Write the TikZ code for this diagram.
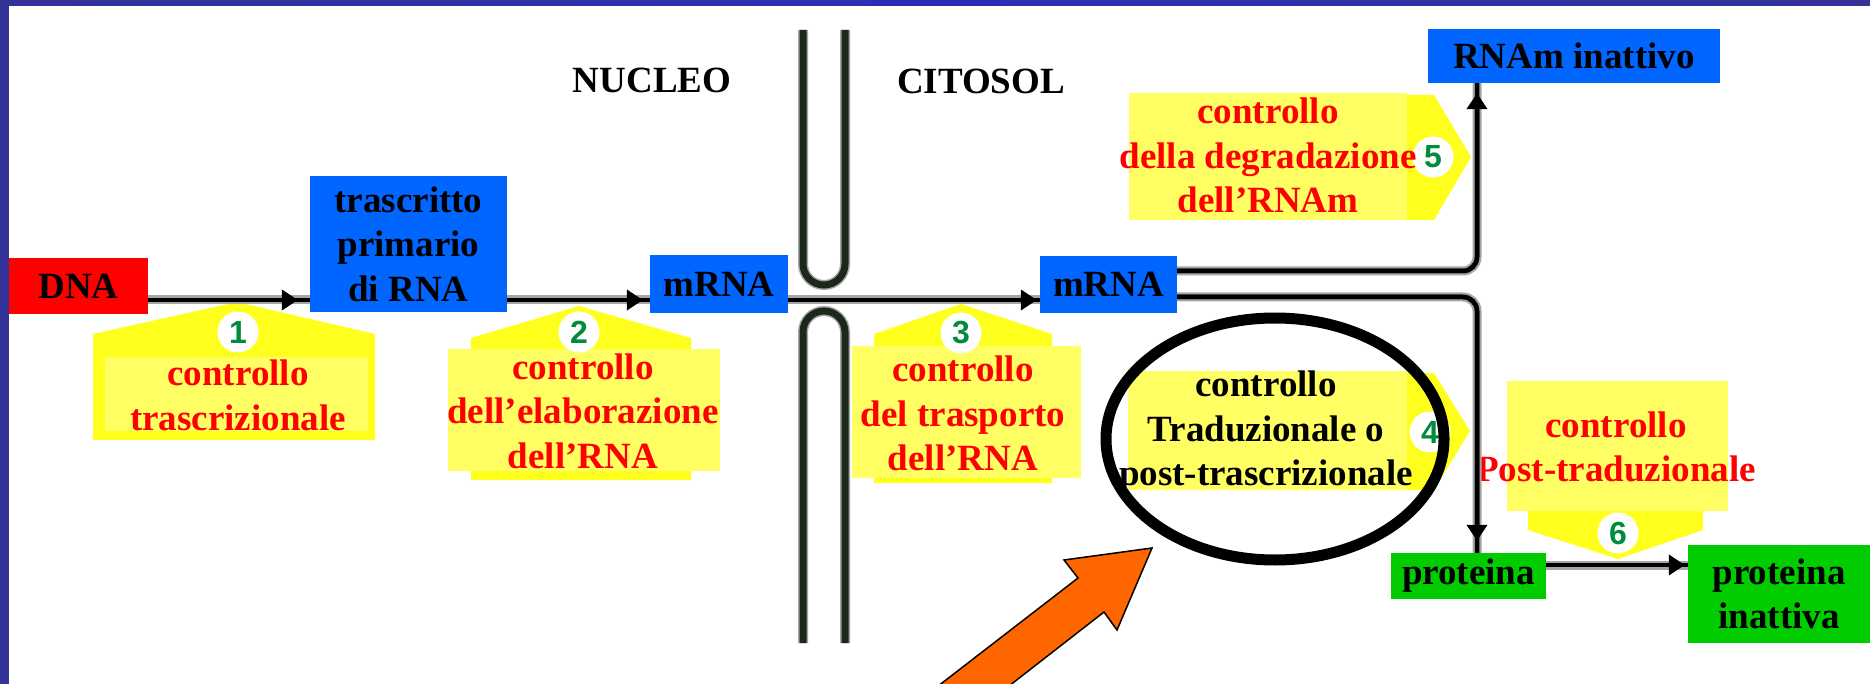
\documentclass[tikz,border=0pt]{standalone}
\usepackage{fontspec}
\setmainfont{Liberation Serif}
\newfontfamily\digitfont{Liberation Sans}
\usetikzlibrary{arrows.meta}
\definecolor{barblueA}{RGB}{51,51,153}
\definecolor{barblueB}{RGB}{46,44,182}
\definecolor{boxblue}{RGB}{0,102,255}
\definecolor{boxred}{RGB}{255,0,0}
\definecolor{boxgreen}{RGB}{0,204,0}
\definecolor{ybright}{RGB}{255,255,30}
\definecolor{ylight}{RGB}{255,255,100}
\definecolor{digitgreen}{RGB}{0,140,60}
\definecolor{poregreen}{RGB}{28,40,28}
\definecolor{arroworange}{RGB}{255,102,0}
\definecolor{shadowgray}{RGB}{165,165,165}
\begin{document}
\begin{tikzpicture}[x=1pt,y=-1pt,
  box/.style={draw=none, inner sep=0pt, align=center, font=\bfseries\fontsize{37}{44.5}\selectfont, text=black},
  lbl/.style={inner sep=0pt, align=center, font=\bfseries\fontsize{37}{44.5}\selectfont, text=red},
  digit/.style={circle, fill=white, minimum size=41pt, inner sep=0pt, text=digitgreen, font=\digitfont\bfseries\fontsize{32}{32}\selectfont},
  conn/.style={line width=4.5pt, black, preaction={draw=shadowgray, line width=9pt}},
  arrowend/.style={postaction={draw, line width=4.5pt, shorten >=#1, -{Triangle[length=16pt,width=20pt]}}},
  pore/.style={line width=7pt, poregreen, preaction={draw=shadowgray, line width=10pt}},
  brightpart/.style={fill=ybright},
  lightpart/.style={fill=ylight},
]
\useasboundingbox (0,0) rectangle (1870,684);
\fill[white] (0,0) rectangle (1870,684);
% frame bars
\shade[left color=barblueA, right color=barblueA, middle color=barblueB] (0,0) rectangle (1870,6);
\fill[barblueA] (0,0) rectangle (9,684);

% row coordinates
\coordinate (r1) at (0,300);
\coordinate (r5) at (0,271);
\coordinate (r4) at (0,297);
\coordinate (r6) at (0,565);
\coordinate (col) at (1477,0);

% nuclear pore
\draw[pore] (803,30) -- (803,264) .. controls (803,275.6) and (812.4,285) .. (824,285)
  .. controls (835.6,285) and (845,275.6) .. (845,264) -- (845,30);
\draw[pore] (803,643) -- (803,332) .. controls (803,320.4) and (812.4,311) .. (824,311)
  .. controls (835.6,311) and (845,320.4) .. (845,332) -- (845,643);

% yellow label shapes
\fill[brightpart] (93,440) -- (93,334) -- (237,302) -- (375,334) -- (375,440) -- cycle;
\fill[lightpart] (105,357) rectangle (368,431);
\fill[brightpart] (471,480) -- (471,338) -- (579,306) -- (691,338) -- (691,480) -- cycle;
\fill[lightpart] (448,349) rectangle (720,471);
\fill[brightpart] (874,483) -- (874,334) -- (961,304) -- (1052,334) -- (1052,483) -- cycle;
\fill[lightpart] (852,346) rectangle (1081,478);
\fill[brightpart] (1160,373) -- (1434,373) -- (1470,431) -- (1434,490) -- (1160,490) -- cycle;
\fill[lightpart] (1128,371) rectangle (1407,490);
\fill[brightpart] (1160,95) -- (1434,95) -- (1471,157) -- (1434,220) -- (1160,220) -- cycle;
\fill[lightpart] (1129,93) rectangle (1407,220);
\fill[brightpart] (1528,385) -- (1703,385) -- (1703,530) -- (1618,559) -- (1528,530) -- cycle;
\fill[lightpart] (1507,381) rectangle (1728,511);

% digits
\node[digit] (d1) at (238,332) {1};
\node[digit] (d2) at (579,332) {2};
\node[digit] (d3) at (961,333) {3};
\node[digit] (d4) at (1430,432) {4};
\node[digit] (d5) at (1433,157) {5};
\node[digit] (d6) at (1618,533) {6};

% label texts
\node[lbl] (l1) at (238,395.5) {controllo\\trascrizionale};
\node[lbl] (l2) at (583,411) {controllo\\dell’elaborazione\\dell’RNA};
\node[lbl] (l3) at (963,413.5) {controllo\\del trasporto\\dell’RNA};
\node[lbl, text=black] (l4) at (1266,432.5) {controllo\\Traduzionale o\\post-trascrizionale};
\node[lbl] (l5) at (1268,155.5) {controllo\\della degradazione\\dell’RNAm};
\node[lbl] (l6) at (1616,447) {controllo\\Post-traduzionale};

% headers
\node[box, anchor=base] (nucleo) at (652,93) {NUCLEO};
\node[box, anchor=base] (citosol) at (981,94) {CITOSOL};

% boxes
\node[box, fill=boxred, minimum width=139pt, minimum height=56pt] (dna) at (78.5,286) {DNA};
\node[box, fill=boxblue, minimum width=197pt, minimum height=136pt] (tras) at (408.5,244) {trascritto\\primario\\di RNA};
\node[box, fill=boxblue, minimum width=138pt, minimum height=58pt] (mrna1) at (719,284) {mRNA};
\node[box, fill=boxblue, minimum width=137pt, minimum height=57pt] (mrna2) at (1108.5,284.5) {mRNA};
\node[box, fill=boxblue, minimum width=292pt, minimum height=54pt] (rnam) at (1574,56) {RNAm inattivo};
\node[box, fill=boxgreen, minimum width=155pt, minimum height=46pt] (prot) at (1468.5,576) {proteina};
\node[box, fill=boxgreen, minimum width=182pt, minimum height=98pt] (inatt) at (1779,594) {proteina\\inattiva};

% connectors
\draw[conn, arrowend=12pt] (dna.east |- r1) -- (tras.west |- r1);
\draw[conn, arrowend=7pt] (tras.east |- r1) -- (mrna1.west |- r1);
\draw[conn, arrowend=3pt] (mrna1.east |- r1) -- (mrna2.west |- r1);
\draw[conn, rounded corners=14pt, arrowend=10pt] (mrna2.east |- r5) -- (col |- r5) -- (col |- rnam.south);
\draw[conn, rounded corners=14pt, arrowend=12pt] (mrna2.east |- r4) -- (col |- r4) -- (col |- prot.north);
\draw[conn, arrowend=3pt] (prot.east |- r6) -- (inatt.west |- r6);

% highlight ellipse
\draw[line width=11pt] (1275,439) ellipse [x radius=169, y radius=121];

% orange arrow
\begin{scope}
\clip (0,0) rectangle (1870,684);
\filldraw[fill=arroworange, draw=black, line width=1.5pt]
  (1152,548) -- (1117,630) -- (1104,612) -- (991,700) -- (920,700) -- (1078,578) -- (1064,560) -- cycle;
\end{scope}
\end{tikzpicture}
\end{document}
